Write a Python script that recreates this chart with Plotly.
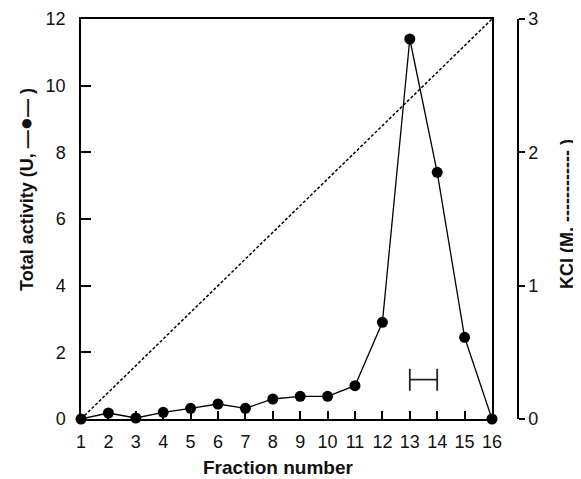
import plotly.graph_objects as go

fractions = list(range(1, 17))
activity = [0, 0.18, 0.03, 0.2, 0.32, 0.45, 0.32, 0.6, 0.68, 0.68, 1.0, 2.9, 11.4, 7.4, 2.45, 0]
kcl_x = [1, 16]
kcl_y = [0, 3]
bar_x = [13.5]
bar_y = [1.18]
bar_half = [0.5]
x_ticks = list(range(1, 17))
y_ticks = [0, 2, 4, 6, 8, 10, 12]
y2_ticks = [0, 1, 2, 3]

font = "Liberation Sans, Arial, sans-serif"

fig = go.Figure()
fig.add_trace(go.Scatter(x=kcl_x, y=kcl_y, yaxis="y2", mode="lines",
                         line=dict(color="black", width=1.5, dash="3px,2px"),
                         showlegend=False, cliponaxis=False))
fig.add_trace(go.Scatter(x=fractions, y=activity, mode="lines+markers",
                         line=dict(color="black", width=1.3),
                         marker=dict(color="black", size=11),
                         showlegend=False, cliponaxis=False))
fig.add_trace(go.Scatter(x=bar_x, y=bar_y, mode="markers",
                         marker=dict(size=0.1, color="rgba(0,0,0,0)"),
                         error_x=dict(type="data", array=bar_half, color="#222", thickness=1.8, width=11),
                         showlegend=False))

W = 449.0
H = 400.0
# page body has an 8px margin, so the figure is drawn 8px smaller and offset
fig.update_layout(
    width=573, height=471,
    margin=dict(l=73, r=51, t=11, b=60, autoexpand=False),
    plot_bgcolor="white", paper_bgcolor="white",
    font=dict(family=font, size=18, color="#111"),
    xaxis=dict(domain=[0, 411/W], range=[1, 16], tickvals=x_ticks,
               ticks="inside", ticklen=8, tickwidth=1.5, tickcolor="black",
               ticklabelstandoff=6,
               showline=True, linecolor="black", linewidth=1.5, mirror=True,
               showgrid=False, zeroline=False),
    yaxis=dict(range=[0, 12], tickvals=y_ticks,
               ticks="inside", ticklen=10, tickwidth=1.5, tickcolor="black",
               ticklabelstandoff=10,
               showline=True, linecolor="black", linewidth=1.5, mirror=True,
               showgrid=False, zeroline=False),
    yaxis2=dict(range=[0, 3], tickvals=y2_ticks, overlaying="y", side="right",
                anchor="free", position=437/W,
                ticks="outside", ticklen=6, tickwidth=1.5, tickcolor="black",
                showline=True, linecolor="black", linewidth=1.5,
                showgrid=False, zeroline=False),
    annotations=[
        dict(text="<b>Fraction number</b>", xref="paper", yref="paper",
             x=(278-81)/W, y=(419-467)/H, showarrow=False,
             font=dict(size=19), xanchor="center", yanchor="middle"),
        dict(text="<b>Total activity (U, —<span style='font-size:22px'>●</span>— )</b>",
             xref="paper", yref="paper", x=(25-81)/W, y=(419-190)/H,
             showarrow=False, textangle=-90, font=dict(size=18),
             xanchor="center", yanchor="middle"),
        dict(text="<b>KCl (M, ------------ )</b>", xref="paper", yref="paper",
             x=(567-81)/W, y=(419-214)/H, showarrow=False, textangle=-90,
             font=dict(size=18), xanchor="center", yanchor="middle"),
    ],
)

fig.write_html("out.html")
